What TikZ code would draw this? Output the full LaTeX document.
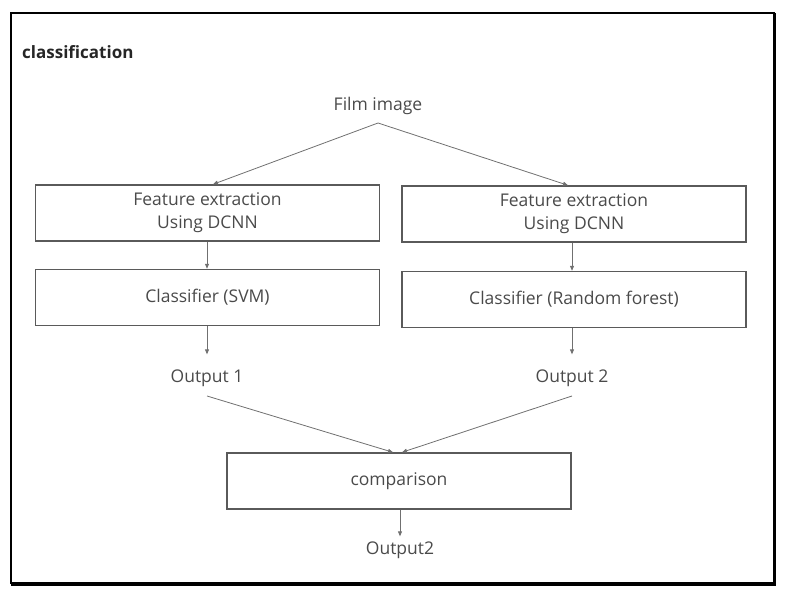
\documentclass[tikz,border=0pt]{standalone}
\usepackage{fontspec}
\setmainfont{Open Sans}
\usetikzlibrary{arrows.meta}
\definecolor{txt}{HTML}{4A4A4A}
\definecolor{edge}{HTML}{5A5A5A}
\definecolor{ln}{HTML}{707070}
\begin{document}
\begin{tikzpicture}[x=1pt,y=-1pt,
  lbl/.style={font=\fontsize{17.5}{22}\selectfont, text=txt, inner sep=0pt},
  proc/.style={draw=edge, line width=1.4pt, minimum width=344pt, minimum height=56pt, inner sep=0pt, align=center, font=\fontsize{17.5}{23}\selectfont, text=txt},
  conn/.style={draw=ln, line width=0.8pt, -{Triangle[length=5pt,width=4pt]}}
]
\useasboundingbox (0,0) rectangle (787,601);
\draw[line width=2pt] (11,13) rectangle (774,583);
\draw[line width=2pt] (775,13) -- (775,585) -- (11,585);
\node[font=\bfseries\fontsize{17}{20}\selectfont, text=black!85, anchor=west, inner sep=0pt] (title) at (22,52) {classification};
\node[lbl] (film) at (378,106) {Film image};
\coordinate (filmb) at (378,123);
\node[proc] (fe1) at (207.5,213) {Feature extraction\\Using DCNN};
\node[proc] (fe2) at (574,214) {Feature extraction\\Using DCNN};
\node[proc] (cl1) at (207.5,297.5) {Classifier (SVM)};
\node[proc] (cl2) at (574,299.5) {Classifier (Random forest)};
\node[lbl] (o1) at (207,378) {Output 1};
\node[lbl] (o2) at (572,378) {Output 2};
\node[proc] (cmp) at (399,481) {comparison};
\node[lbl] (o3) at (400,550) {Output2};
\coordinate (o1b) at (207,396);
\coordinate (o2b) at (572,396);
\draw[conn] (filmb) -- (fe1.north -| 213,0);
\draw[conn] (filmb) -- (fe2.north -| 568,0);
\draw[conn] (fe1.south -| 207,0) -- (cl1.north -| 207,0);
\draw[conn] (fe2.south -| 572,0) -- (cl2.north -| 572,0);
\draw[conn, shorten >=15pt] (cl1.south -| 207,0) -- (o1.north);
\draw[conn, shorten >=15pt] (cl2.south -| 572,0) -- (o2.north);
\draw[conn] (o1b) -- (cmp.north -| 393,0);
\draw[conn] (o2b) -- (cmp.north -| 402,0);
\draw[conn, shorten >=5pt] (cmp.south -| 400,0) -- (o3.north);
\end{tikzpicture}
\end{document}
